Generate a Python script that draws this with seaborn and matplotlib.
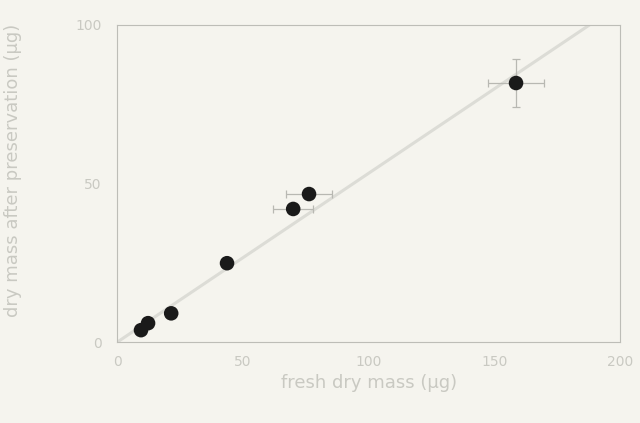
import matplotlib
matplotlib.use("Agg")
import matplotlib.pyplot as plt
import seaborn as sns
import pandas as pd

# measurements: fresh dry mass vs dry mass after preservation (µg)
fresh_mass = [9.5, 12.3, 21.5, 43.7, 70.0, 76.3, 158.6]
preserved_mass = [3.8, 6.0, 9.1, 24.9, 42.0, 46.7, 81.7]
fresh_err = [0, 0, 0, 0, 8.0, 9.0, 11.0]
preserved_err = [0, 0, 0, 0, 0, 0, 7.5]

# fitted line through the origin
fit_x = [0, 200]
fit_y = [0, 106.5]

x_ticks = [0, 50, 100, 150, 200]
y_ticks = [0, 50, 100]

bg = "#f5f4ee"
ink = "#c9c9c2"

sns.set_theme(style="white")
plt.rcParams["font.family"] = ["DejaVu Sans"]

df = pd.DataFrame({"fresh": fresh_mass, "preserved": preserved_mass})
fit = pd.DataFrame({"x": fit_x, "y": fit_y})

fig = plt.figure(figsize=(6.4, 4.23), dpi=100, facecolor=bg)
ax = fig.add_axes([0.183, 0.191, 0.786, 0.750])
ax.set_facecolor(bg)

sns.lineplot(data=fit, x="x", y="y", ax=ax, color="#dcdcd6", linewidth=2.2, zorder=1)

for xv, yv, xe, ye in zip(fresh_mass, preserved_mass, fresh_err, preserved_err):
    if xe or ye:
        ax.errorbar(xv, yv, xerr=xe if xe else None, yerr=ye if ye else None,
                    fmt="none", ecolor="#b8b8b2", elinewidth=0.9, capsize=3,
                    capthick=0.9, zorder=2)

sns.scatterplot(data=df, x="fresh", y="preserved", ax=ax, color="#1a1a1a",
                s=110, edgecolor="none", zorder=3)

ax.set_xlim(0, 200)
ax.set_ylim(0, 100)
ax.set_xticks(x_ticks)
ax.set_yticks(y_ticks)
ax.tick_params(axis="both", colors=ink, labelcolor=ink, labelsize=10,
               direction="inout", length=6, width=0.8)
ax.tick_params(axis="x", pad=6)
ax.tick_params(axis="y", pad=8)
for side in ax.spines.values():
    side.set_color("#bdbdb7")
    side.set_linewidth(0.8)

ax.set_xlabel("fresh dry mass (µg)", color=ink, fontsize=13)
ax.set_ylabel("dry mass after preservation (µg)", color=ink, fontsize=13)
ax.xaxis.set_label_coords(0.5, -0.10)
ax.yaxis.set_label_coords(-0.19, 0.543)

fig.savefig("out.png", dpi=100, facecolor=bg)
